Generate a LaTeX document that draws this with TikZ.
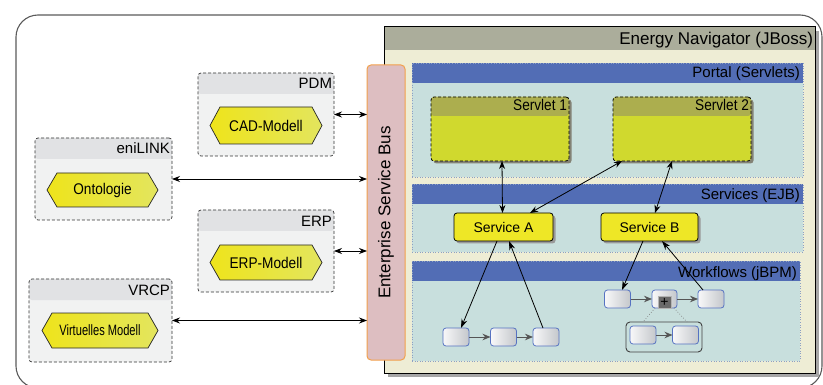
\documentclass[tikz,border=0pt]{standalone}
\usepackage{fontspec}
\setmainfont{Liberation Sans}
\newfontfamily\narrowsans[FakeStretch=0.88]{Liberation Sans}
\newfontfamily\condsans[FakeStretch=0.74]{Liberation Sans}
\usetikzlibrary{arrows.meta,shadows,calc}

\definecolor{framegray}{HTML}{5A5A5A}
\definecolor{grphead}{HTML}{E1E2E4}
\definecolor{grpbody}{HTML}{F1F2F2}
\definecolor{hexleft}{HTML}{EEE41B}
\definecolor{hexright}{HTML}{E3E55E}
\definecolor{navhead}{HTML}{ABAD9B}
\definecolor{navbody}{HTML}{EEEDD5}
\definecolor{esbfill}{HTML}{DDBEC1}
\definecolor{esbline}{HTML}{F2A04C}
\definecolor{layerbar}{HTML}{526DB5}
\definecolor{layerbody}{HTML}{C8DFDD}
\definecolor{layerdots}{HTML}{8DA0C4}
\definecolor{servhead}{HTML}{ACAE4E}
\definecolor{servbody}{HTML}{D0D92E}
\definecolor{svcfill}{HTML}{EEE726}
\definecolor{taskline}{HTML}{5672C2}
\definecolor{taskl}{HTML}{F8F8F9}
\definecolor{taskr}{HTML}{C4C7CB}
\definecolor{plusfill}{HTML}{6A6A6A}
\definecolor{plusedge}{HTML}{B4B4B4}
\definecolor{flowgray}{HTML}{555555}
\definecolor{subedge}{HTML}{404040}

% hexagonal model label: name, centre x, centre y, half width, half height, font, text
\newcommand{\hexlabel}[7]{%
  \shadedraw[hexshape] ({#2-#4},#3) -- ({#2-#4+10},{#3-#5}) -- ({#2+#4-10},{#3-#5})
    -- ({#2+#4},#3) -- ({#2+#4-10},{#3+#5}) -- ({#2-#4+10},{#3+#5}) -- cycle;
  \node[font=#6] (#1) at (#2,#3) {#7};}

\begin{document}
\begin{tikzpicture}[x=1pt,y=-1pt,
  every node/.style={inner sep=0pt, outer sep=0pt},
  frame/.style={draw=framegray, line width=1.1pt, rounded corners=22pt, anchor=north west},
  grp/.style={draw=black!80, dash pattern=on 3pt off 2pt, line width=0.7pt, rounded corners=3pt,
    fill=grpbody, anchor=north west,
    path picture={\fill[grphead] (path picture bounding box.north west) rectangle
      ([yshift=-21pt]path picture bounding box.north east);}},
  hdr/.style={anchor=base east, font=\fontsize{15}{15}\selectfont},
  hexshape/.style={draw=black!85, line width=0.7pt, left color=hexleft, right color=hexright},
  nav/.style={draw=black, line width=1pt, fill=navbody, anchor=north west,
    drop shadow={shadow xshift=4pt, shadow yshift=-4pt, fill=black!35, opacity=1},
    path picture={\fill[navhead] (path picture bounding box.north west) rectangle
      ([yshift=-23pt]path picture bounding box.north east);}},
  esb/.style={draw=esbline, line width=1pt, fill=esbfill, rounded corners=4pt, anchor=north west},
  layer/.style={draw=layerdots, dotted, line width=0.6pt, fill=layerbody, anchor=north west,
    path picture={\fill[layerbar] (path picture bounding box.north west) rectangle
      ([yshift=-20.5pt]path picture bounding box.north east);}},
  servlet/.style={draw=black, dash pattern=on 3pt off 2pt, line width=0.8pt, rounded corners=3pt,
    fill=servbody, anchor=north west, minimum width=138pt, minimum height=64pt,
    drop shadow={shadow xshift=2.5pt, shadow yshift=-2.5pt, fill=black!45!navbody, opacity=1},
    path picture={\fill[servhead] (path picture bounding box.north west) rectangle
      ([yshift=-19pt]path picture bounding box.north east);}},
  service/.style={draw=black, line width=0.8pt, rounded corners=3pt, fill=svcfill,
    minimum height=28pt, font=\fontsize{14}{14}\selectfont,
    drop shadow={shadow xshift=2.5pt, shadow yshift=-2.5pt, fill=black!40, opacity=1}},
  task/.style={draw=taskline, line width=0.8pt, rounded corners=3pt, minimum width=26pt,
    minimum height=18pt, shading=axis, shading angle=135, left color=taskl, right color=taskr},
  subflow/.style={draw=subedge, line width=0.9pt, rounded corners=4pt, fill=layerbody,
    minimum width=76pt, minimum height=30pt},
  plusbox/.style={draw=plusedge, line width=1pt, fill=plusfill, minimum width=13pt,
    minimum height=12pt, font=\fontsize{14}{14}\selectfont},
  biarrow/.style={{Stealth[length=8pt,width=6pt]}-{Stealth[length=8pt,width=6pt]}, line width=0.8pt, black},
  call/.style={-{Stealth[length=9pt,width=6pt]}, line width=0.8pt, black},
  flow/.style={-{Stealth[length=8pt,width=6.5pt]}, line width=1pt, flowgray},
]
\useasboundingbox (0,0) rectangle (823,385);

% outer frame
\node[frame, minimum width=806pt, minimum height=373pt] (frame) at (16,15) {};

% external systems
\node[grp, minimum width=136pt, minimum height=83pt] (pdm) at (198,73) {};
\node[hdr] (pdmlbl) at ($(pdm.north east)+(-2,16)$) {PDM};
\hexlabel{cad}{266}{125.5}{56}{18.5}{\narrowsans\fontsize{15.5}{15.5}\selectfont}{CAD-Modell}

\node[grp, minimum width=137pt, minimum height=82pt] (enilink) at (35,138) {};
\node[hdr] (enilbl) at ($(enilink.north east)+(-2,16)$) {eniLINK};
\hexlabel{onto}{102.5}{190}{55.5}{17}{\narrowsans\fontsize{15.5}{15.5}\selectfont}{Ontologie}

\node[grp, minimum width=136pt, minimum height=82pt] (erp) at (198,210) {};
\node[hdr] (erplbl) at ($(erp.north east)+(-2,16)$) {ERP};
\hexlabel{erpm}{266}{262.5}{56}{17.5}{\narrowsans\fontsize{15.5}{15.5}\selectfont}{ERP-Modell}

\node[grp, minimum width=143pt, minimum height=83pt] (vrcp) at (29,279) {};
\node[hdr] (vrcplbl) at ($(vrcp.north east)+(-2,16)$) {VRCP};
\hexlabel{virt}{100}{330.5}{58}{17.5}{\condsans\fontsize{15}{15}\selectfont}{Virtuelles Modell}

% application server
\node[nav, minimum width=431pt, minimum height=346pt] (nav) at (384,27) {};
\node[hdr, font=\fontsize{17}{17}\selectfont] (navlbl) at ($(nav.north east)+(-2,18)$) {Energy Navigator (JBoss)};

% enterprise service bus
\node[esb, minimum width=38pt, minimum height=295pt] (esb) at (367,65) {};
\node[rotate=90, font=\fontsize{17}{17}\selectfont] (esblbl) at (esb.center) {Enterprise Service Bus};

% layers
\node[layer, minimum width=391pt, minimum height=114pt] (portal) at (412,63) {};
\node[hdr] (portallbl) at ($(portal.north east)+(-3,15)$) {Portal (Servlets)};
\node[layer, minimum width=391pt, minimum height=68pt] (services) at (412,184) {};
\node[hdr] (serviceslbl) at ($(services.north east)+(-3,15.5)$) {Services (EJB)};
\node[layer, minimum width=388pt, minimum height=100pt] (workflows) at (412,261) {};
\node[hdr] (workflowslbl) at ($(workflows.north east)+(-3,16)$) {Workflows (jBPM)};

% servlets
\node[servlet] (servlet1) at (431,97) {};
\node[hdr, font=\narrowsans\fontsize{15.5}{15.5}\selectfont] (s1lbl) at ($(servlet1.north east)+(-2,14)$) {Servlet 1};
\node[servlet] (servlet2) at (613,97) {};
\node[hdr, font=\narrowsans\fontsize{15.5}{15.5}\selectfont] (s2lbl) at ($(servlet2.north east)+(-2,14)$) {Servlet 2};

% services
\node[service, minimum width=99pt] (serviceA) at (503.5,227) {Service A};
\node[service, minimum width=97pt] (serviceB) at (649.5,227) {Service B};

% workflow of service A
\node[task] (t1) at (456,337) {};
\node[task] (t2) at (503.5,337) {};
\node[task] (t3) at (546,337) {};

% workflow of service B with sub-process
\node[task] (u1) at (617.5,299) {};
\node[task, minimum width=25pt] (u2) at (664.5,299) {};
\node[task] (u3) at (711,299) {};
\node[plusbox] (plus) at (664.5,302.5) {+};
\node[subflow] (sub) at (664,337) {};
\node[task] (s1) at (643,335) {};
\node[task] (s2) at (685.5,335) {};
\draw[gray, dotted, line width=0.7pt] ($(u2.south west)+(3,0)$) -- ($(sub.north west)+(17,0)$);
\draw[gray, dotted, line width=0.7pt] ($(u2.south east)+(-3,0)$) -- ($(sub.north east)+(-15,0)$);

% connectors to the bus
\draw[biarrow] (pdm.east) -- (pdm.east -| esb.west);
\draw[biarrow] (enilink.east) -- (enilink.east -| esb.west);
\draw[biarrow] (erp.east) -- (erp.east -| esb.west);
\draw[biarrow] (vrcp.east) -- (vrcp.east -| esb.west);

% servlet to service calls
\draw[biarrow] ($(servlet1.south)+(2,0)$) -- ($(serviceA.north)+(-1,0)$);
\draw[biarrow] ($(servlet2.south west)+(9,0)$) -- ($(serviceA.north)+(26.5,0)$);
\draw[biarrow] ($(servlet2.south)+(-10,0)$) -- ($(serviceB.north)+(5.5,0)$);

% service to workflow calls
\draw[call] ($(serviceA.south)+(-6.5,0)$) -- ($(t1.north)+(5,0)$);
\draw[call] ($(t3.north)+(-3,0)$) -- ($(serviceA.south)+(5.5,0)$);
\draw[call] ($(serviceB.south)+(-6.5,0)$) -- ($(u1.north)+(4.5,0)$);
\draw[call] ($(u3.north)+(-8,0)$) -- ($(serviceB.south)+(12.5,0)$);

% sequence flows
\draw[flow] (t1) -- (t2);
\draw[flow] (t2) -- (t3);
\draw[flow] (u1) -- (u2);
\draw[flow] (u2) -- (u3);
\draw[flow] (s1) -- (s2);
\end{tikzpicture}
\end{document}
